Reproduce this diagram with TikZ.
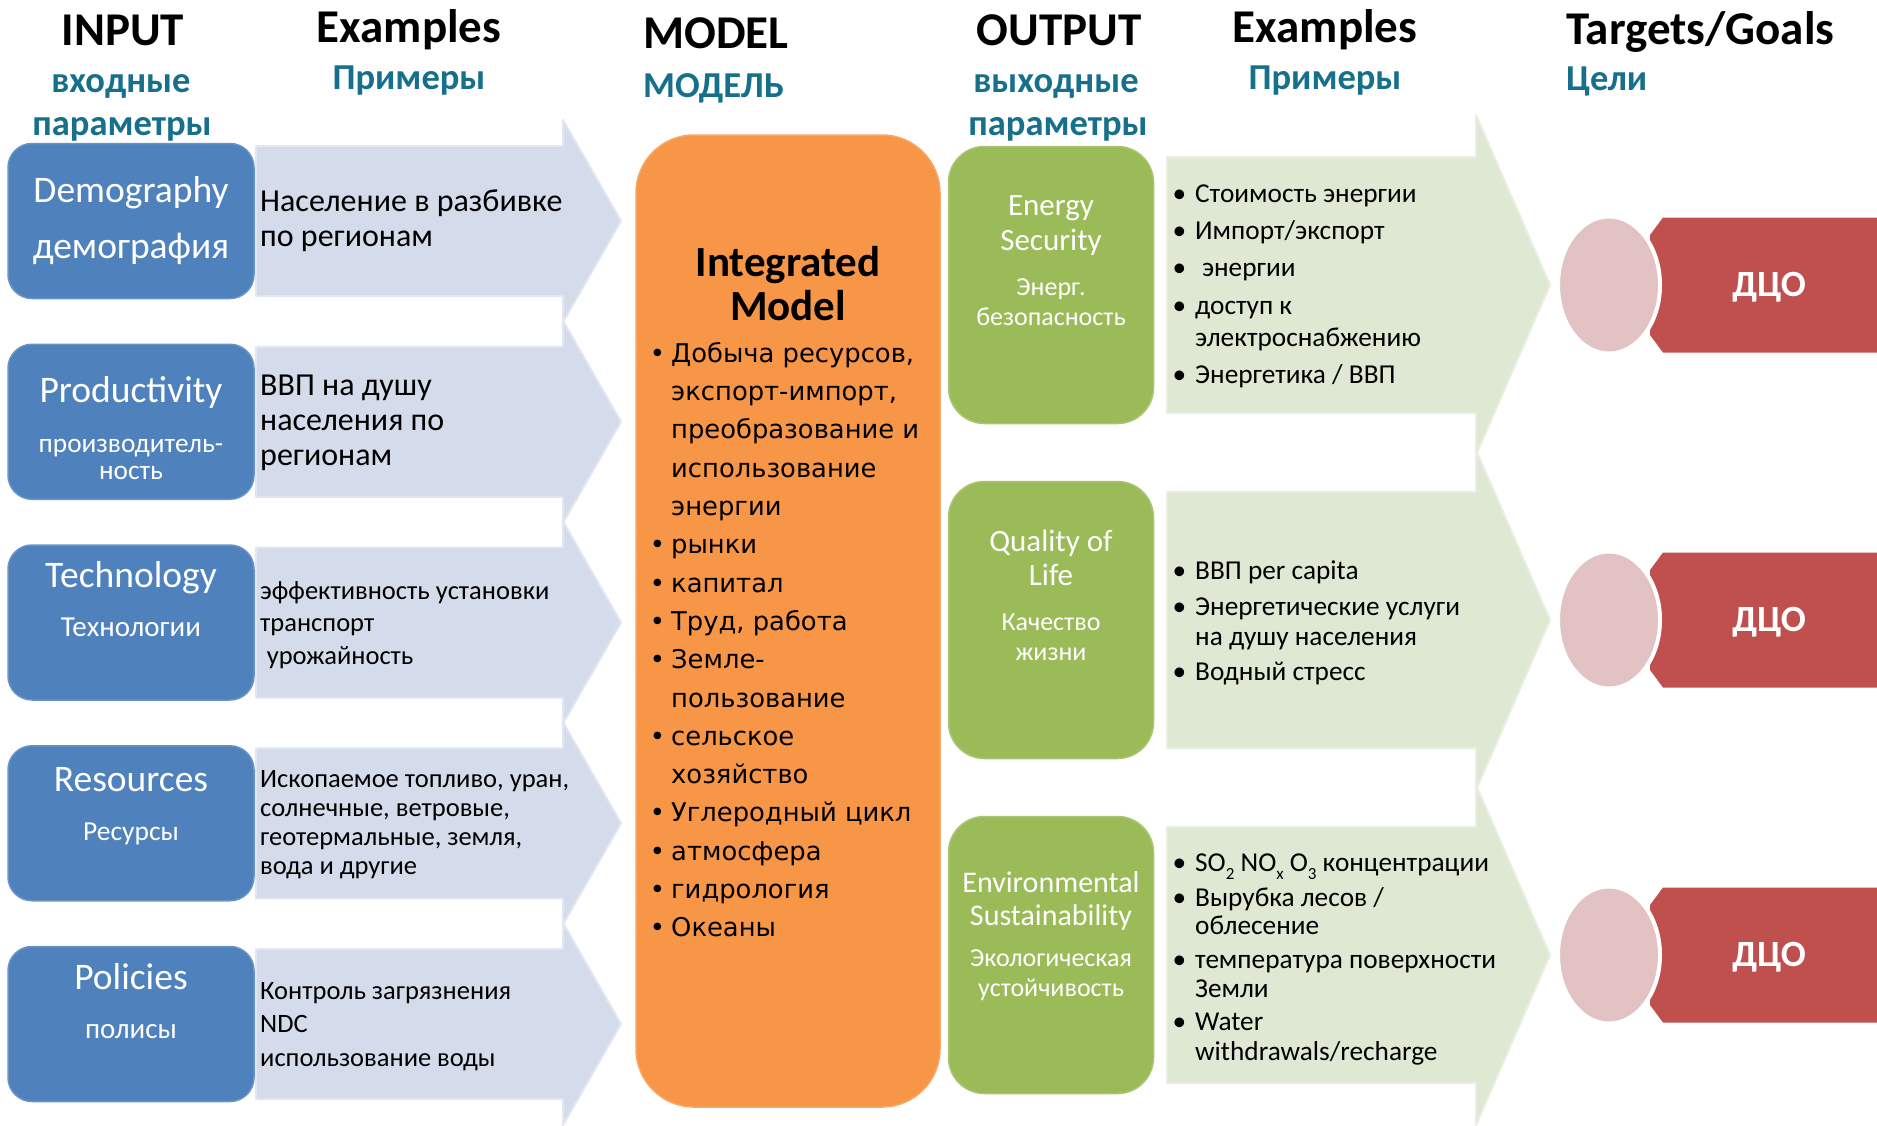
\documentclass[tikz,border=0pt]{standalone}
\usepackage{fontspec}
\setmainfont{Carlito}
\newfontfamily\dvs{DejaVu Sans}
\usetikzlibrary{shapes.geometric}
\definecolor{bluebox}{HTML}{4F81BD}
\definecolor{bluearrow}{HTML}{D4DBEA}
\definecolor{orangebox}{HTML}{F79646}
\definecolor{greenbox}{HTML}{9BBB59}
\definecolor{greenarrow}{HTML}{DFE8D3}
\definecolor{redbanner}{HTML}{C0504D}
\definecolor{pinkell}{HTML}{E3C2C4}
\definecolor{tealtxt}{HTML}{16708C}
\newcommand\fs[1]{\fontsize{#1}{#1}\selectfont}
\newcommand\bul{\llap{•\hspace{9pt}}}
\newcommand\obul{\llap{•\hspace{6pt}}}
\newcommand\sbs[1]{\raisebox{-0.28em}{\fontsize{17}{17}\selectfont #1}}
\tikzset{
  hd/.style={font=\fs{47}\bfseries, inner sep=0, anchor=base},
  sub/.style={font=\fs{36.5}\bfseries, text=tealtxt, inner sep=0, anchor=base},
  bbox/.style={fill=bluebox, draw=bluebox!85!white, line width=1.5pt, rounded corners=24pt,
     minimum width=246pt, minimum height=155pt, inner sep=0},
  barrow/.style={fill=bluearrow, draw=bluearrow!70!white, line width=2pt, line join=round},
  garrow/.style={fill=greenarrow, draw=greenarrow!70!white, line width=2pt, line join=round},
  gbox/.style={fill=greenbox, draw=greenbox!85!white, line width=1.5pt, rounded corners=36pt,
     minimum width=205pt, minimum height=277pt, inner sep=0},
  wt/.style={text=white, inner sep=0, anchor=mid},
  lt/.style={inner sep=0, anchor=mid west},
}
\begin{document}
\begin{tikzpicture}[x=1pt,y=-1pt]
\useasboundingbox (0,0) rectangle (1877,1125);
\fill[white] (0,0) rectangle (1877,1125);

% ---------- headings ----------
\node[hd] (hIn) at (123,45) {INPUT};
\node[sub] (sIn1) at (121,92) {входные};
\node[sub] (sIn2) at (122,135) {параметры};
\node[hd] (hEx1) at (409,42) {Examples};
\node[sub] (sEx1) at (409,89) {Примеры};
\node[hd, anchor=base west] (hMo) at (643,48) {MODEL};
\node[sub, anchor=base west] (sMo) at (643,97) {МОДЕЛЬ};
\node[hd] (hOut) at (1059,45) {OUTPUT};
\node[sub] (sOut1) at (1056,92) {выходные};
\node[sub] (sOut2) at (1058,135) {параметры};
\node[hd] (hEx2) at (1325,42) {Examples};
\node[sub] (sEx2) at (1325,89) {Примеры};
\node[hd, anchor=base west] (hTg) at (1566,44) {Targets/Goals};
\node[sub, anchor=base west] (sTg) at (1566,90) {Цели};

% ---------- input column ----------
\foreach \i in {0,...,4} {
  \pgfmathsetmacro\c{221+200.75*\i}
  \draw[barrow] (256,\c-75) -- (563,\c-75) -- (563,\c-101) -- (621,\c)
     -- (563,\c+101) -- (563,\c+75) -- (256,\c+75) -- cycle;
  \node[bbox] (b\i) at (131,\c) {};
}
\node[wt, font=\fs{37.5}] (t0a) at (131,200) {Demography};
\node[wt, font=\fs{37.5}] (t0b) at (131,256) {демография};
\node[wt, font=\fs{37.5}] (t1a) at (131,400) {Productivity};
\node[wt, font=\fs{27.3}] (t1b) at (131,450) {производитель-};
\node[wt, font=\fs{27.3}] (t1c) at (131,477) {ность};
\node[wt, font=\fs{37.5}] (t2a) at (131,585) {Technology};
\node[wt, font=\fs{29}] (t2b) at (131,634) {Технологии};
\node[wt, font=\fs{37.5}] (t3a) at (131,789) {Resources};
\node[wt, font=\fs{27.5}] (t3b) at (131,838) {Ресурсы};
\node[wt, font=\fs{37.5}] (t4a) at (131,987) {Policies};
\node[wt, font=\fs{29}] (t4b) at (131,1036) {полисы};

% input examples
\foreach \y/\t [count=\i] in {209/{Население в разбивке}, 244/{по регионам},
    393/{ВВП на душу}, 428/{населения по}, 463/{регионам}}
  \node[lt, font=\fs{32}] (ea\i) at (260,\y) {\t};
\foreach \y/\t [count=\i] in {597/{эффективность установки}, 629/{транспорт}, 662/{\hspace{0.25em}урожайность},
    785/{Ископаемое топливо, уран,}, 814/{солнечные, ветровые,}, 843/{геотермальные, земля,}, 872/{вода и другие},
    997/{Контроль загрязнения}, 1030/{NDC}, 1064/{использование воды}}
  \node[lt, font=\fs{26.5}] (eb\i) at (260,\y) {\t};

% ---------- model ----------
\node[fill=orangebox, draw=orangebox!85!white, line width=1.5pt, rounded corners=58pt,
      minimum width=304pt, minimum height=972pt, inner sep=0] (model) at (788,621) {};
\node[inner sep=0, anchor=mid, font=\fs{43}\bfseries] (mi1) at (788,274) {Integrated};
\node[inner sep=0, anchor=mid, font=\fs{43}\bfseries] (mi2) at (788,318) {Model};
\foreach \t [count=\i from 0] in {{\obul Добыча ресурсов,}, {экспорт-импорт,}, {преобразование и},
   {использование}, {энергии}, {\obul рынки}, {\obul капитал}, {\obul Труд, работа}, {\obul Земле-},
   {пользование}, {\obul сельское}, {хозяйство}, {\obul Углеродный цикл}, {\obul атмосфера},
   {\obul гидрология}, {\obul Океаны}}
  \node[lt, font=\dvs\fs{25.8}] (ol\i) at (671,360+38.3*\i) {\t};

% ---------- output column ----------
\foreach \c [count=\i] in {285,620,955} {
  \draw[garrow] (1167,\c-128) -- (1476,\c-128) -- (1476,\c-170) -- (1550,\c)
     -- (1476,\c+170) -- (1476,\c+128) -- (1167,\c+128) -- cycle;
  \node[gbox] (g\i) at (1051,\c) {};
  \path[fill=redbanner] (1663,\c-67.5) -- (1877,\c-67.5) -- (1877,\c+67.5) -- (1663,\c+67.5)
     -- (1650,\c+50) -- (1650,\c-50) -- cycle;
  \node[ellipse, fill=pinkell, draw=white, line width=4pt, minimum width=102pt, minimum height=137pt,
        inner sep=0] (e\i) at (1609,\c) {};
  \node[wt, font=\fs{37}\bfseries] (d\i) at (1769,\c+9) {ДЦО};
}
\node[wt, font=\fs{31}] (q1a) at (1051,213) {Energy};
\node[wt, font=\fs{31}] (q1b) at (1051,248) {Security};
\node[wt, font=\fs{26}] (q1c) at (1051,293) {Энерг.};
\node[wt, font=\fs{26}] (q1d) at (1051,323) {безопасность};
\node[wt, font=\fs{31}] (q2a) at (1051,549) {Quality of};
\node[wt, font=\fs{31}] (q2b) at (1051,583) {Life};
\node[wt, font=\fs{26}] (q2c) at (1051,628) {Качество};
\node[wt, font=\fs{26}] (q2d) at (1051,658) {жизни};
\node[wt, font=\fs{30}] (q3a) at (1051,890) {Environmental};
\node[wt, font=\fs{30}] (q3b) at (1051,923) {Sustainability};
\node[wt, font=\fs{26}] (q3c) at (1051,964) {Экологическая};
\node[wt, font=\fs{26}] (q3d) at (1051,994) {устойчивость};

\foreach \y/\t [count=\i] in {200/{\bul Стоимость энергии}, 237/{\bul Импорт/экспорт},
   274/{\bul\hspace{0.25em}энергии}, 312/{\bul доступ к}, 344/{электроснабжению}, 381/{\bul Энергетика / ВВП},
   577/{\bul ВВП per capita}, 613/{\bul Энергетические услуги}, 643/{на душу населения}, 678/{\bul Водный стресс},
   869/{\bul SO\sbs{2} NO\sbs{x} O\sbs{3} концентрации}, 904/{\bul Вырубка лесов /}, 932/{облесение},
   966/{\bul температура поверхности}, 995/{Земли}, 1028/{\bul Water}, 1058/{withdrawals/recharge}}
  \node[lt, font=\fs{27.3}] (x\i) at (1195,\y) {\t};
\end{tikzpicture}
\end{document}
